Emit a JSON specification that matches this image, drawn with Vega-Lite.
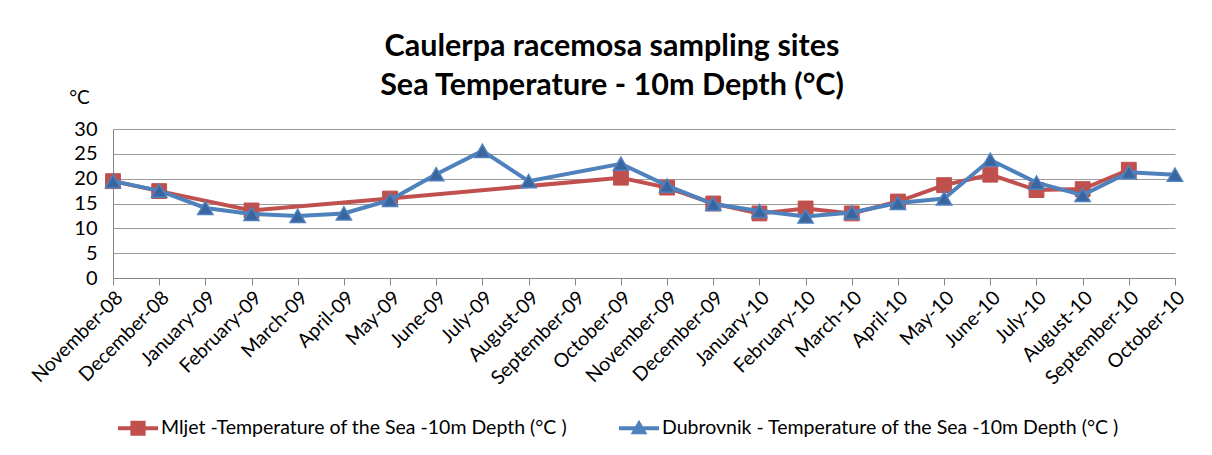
{
  "$schema": "https://vega.github.io/schema/vega-lite/v6.json",
  "autosize": {"type": "none"},
  "width": 1062,
  "height": 149,
  "padding": {"left": 113, "top": 129, "right": 37, "bottom": 177},
  "background": "white",
  "title": {
    "text": ["Caulerpa racemosa sampling sites", "Sea Temperature - 10m Depth (°C)"],
    "font": "Lato",
    "fontSize": 30.5,
    "fontWeight": "bold",
    "color": "#000000",
    "lineHeight": 39,
    "anchor": "middle",
    "dx": -32,
    "dy": 13,
    "offset": 0
  },
  "data": {
    "values": [
      {"month": "November-08", "series": "Mljet -Temperature of the Sea -10m Depth (°C )", "temp": 19.5},
      {"month": "December-08", "series": "Mljet -Temperature of the Sea -10m Depth (°C )", "temp": 17.5},
      {"month": "February-09", "series": "Mljet -Temperature of the Sea -10m Depth (°C )", "temp": 13.6},
      {"month": "May-09", "series": "Mljet -Temperature of the Sea -10m Depth (°C )", "temp": 16.0},
      {"month": "October-09", "series": "Mljet -Temperature of the Sea -10m Depth (°C )", "temp": 20.2},
      {"month": "November-09", "series": "Mljet -Temperature of the Sea -10m Depth (°C )", "temp": 18.2},
      {"month": "December-09", "series": "Mljet -Temperature of the Sea -10m Depth (°C )", "temp": 15.0},
      {"month": "January-10", "series": "Mljet -Temperature of the Sea -10m Depth (°C )", "temp": 13.0},
      {"month": "February-10", "series": "Mljet -Temperature of the Sea -10m Depth (°C )", "temp": 14.0},
      {"month": "March-10", "series": "Mljet -Temperature of the Sea -10m Depth (°C )", "temp": 13.0},
      {"month": "April-10", "series": "Mljet -Temperature of the Sea -10m Depth (°C )", "temp": 15.4},
      {"month": "May-10", "series": "Mljet -Temperature of the Sea -10m Depth (°C )", "temp": 18.7},
      {"month": "June-10", "series": "Mljet -Temperature of the Sea -10m Depth (°C )", "temp": 20.8},
      {"month": "July-10", "series": "Mljet -Temperature of the Sea -10m Depth (°C )", "temp": 17.7},
      {"month": "August-10", "series": "Mljet -Temperature of the Sea -10m Depth (°C )", "temp": 17.9},
      {"month": "September-10", "series": "Mljet -Temperature of the Sea -10m Depth (°C )", "temp": 21.8},
      {"month": "November-08", "series": "Dubrovnik - Temperature of the Sea -10m Depth (°C )", "temp": 19.5},
      {"month": "December-08", "series": "Dubrovnik - Temperature of the Sea -10m Depth (°C )", "temp": 17.6},
      {"month": "January-09", "series": "Dubrovnik - Temperature of the Sea -10m Depth (°C )", "temp": 14.1},
      {"month": "February-09", "series": "Dubrovnik - Temperature of the Sea -10m Depth (°C )", "temp": 12.9},
      {"month": "March-09", "series": "Dubrovnik - Temperature of the Sea -10m Depth (°C )", "temp": 12.5},
      {"month": "April-09", "series": "Dubrovnik - Temperature of the Sea -10m Depth (°C )", "temp": 13.0},
      {"month": "May-09", "series": "Dubrovnik - Temperature of the Sea -10m Depth (°C )", "temp": 15.7},
      {"month": "June-09", "series": "Dubrovnik - Temperature of the Sea -10m Depth (°C )", "temp": 20.9},
      {"month": "July-09", "series": "Dubrovnik - Temperature of the Sea -10m Depth (°C )", "temp": 25.6},
      {"month": "August-09", "series": "Dubrovnik - Temperature of the Sea -10m Depth (°C )", "temp": 19.5},
      {"month": "October-09", "series": "Dubrovnik - Temperature of the Sea -10m Depth (°C )", "temp": 23.0},
      {"month": "November-09", "series": "Dubrovnik - Temperature of the Sea -10m Depth (°C )", "temp": 18.6},
      {"month": "December-09", "series": "Dubrovnik - Temperature of the Sea -10m Depth (°C )", "temp": 14.9},
      {"month": "January-10", "series": "Dubrovnik - Temperature of the Sea -10m Depth (°C )", "temp": 13.5},
      {"month": "February-10", "series": "Dubrovnik - Temperature of the Sea -10m Depth (°C )", "temp": 12.4},
      {"month": "March-10", "series": "Dubrovnik - Temperature of the Sea -10m Depth (°C )", "temp": 13.2},
      {"month": "April-10", "series": "Dubrovnik - Temperature of the Sea -10m Depth (°C )", "temp": 15.1},
      {"month": "May-10", "series": "Dubrovnik - Temperature of the Sea -10m Depth (°C )", "temp": 16.0},
      {"month": "June-10", "series": "Dubrovnik - Temperature of the Sea -10m Depth (°C )", "temp": 23.8},
      {"month": "July-10", "series": "Dubrovnik - Temperature of the Sea -10m Depth (°C )", "temp": 19.2},
      {"month": "August-10", "series": "Dubrovnik - Temperature of the Sea -10m Depth (°C )", "temp": 16.7},
      {"month": "September-10", "series": "Dubrovnik - Temperature of the Sea -10m Depth (°C )", "temp": 21.3},
      {"month": "October-10", "series": "Dubrovnik - Temperature of the Sea -10m Depth (°C )", "temp": 20.8}
    ]
  },
  "encoding": {
    "x": {
      "field": "month",
      "type": "nominal",
      "scale": {
        "type": "point",
        "padding": 0,
        "domain": ["November-08", "December-08", "January-09", "February-09", "March-09", "April-09", "May-09", "June-09", "July-09", "August-09", "September-09", "October-09", "November-09", "December-09", "January-10", "February-10", "March-10", "April-10", "May-10", "June-10", "July-10", "August-10", "September-10", "October-10"]
      },
      "axis": {
        "title": null,
        "labelAngle": -45,
        "labelAlign": "right",
        "labelBaseline": "top",
        "labelPadding": 3,
        "labelFont": "Lato",
        "labelFontSize": 19.5,
        "labelColor": "#000000",
        "domainColor": "#868686",
        "tickColor": "#868686",
        "tickSize": 7,
        "grid": false
      }
    },
    "y": {
      "field": "temp",
      "type": "quantitative",
      "scale": {"domain": [0, 30], "nice": false},
      "axis": {
        "values": [0, 5, 10, 15, 20, 25, 30],
        "title": "°C",
        "titleAngle": 0,
        "titleX": -34,
        "titleY": -32,
        "titleAlign": "center",
        "titleBaseline": "middle",
        "titleFont": "Lato",
        "titleFontSize": 19,
        "titleFontWeight": "normal",
        "titleColor": "#000000",
        "labelFont": "Lato",
        "labelFontSize": 20,
        "labelColor": "#000000",
        "labelPadding": 16,
        "ticks": false,
        "domainColor": "#868686",
        "gridColor": "#9a9a9a",
        "grid": true
      }
    },
    "order": {"value": null}
  },
  "layer": [
    {
      "transform": [{"filter": {"field": "series", "equal": "Mljet -Temperature of the Sea -10m Depth (°C )"}}],
      "mark": {"type": "line", "strokeWidth": 4},
      "encoding": {
        "color": {
          "field": "series",
          "type": "nominal",
          "scale": {
            "domain": ["Mljet -Temperature of the Sea -10m Depth (°C )", "Dubrovnik - Temperature of the Sea -10m Depth (°C )"],
            "range": ["#C0504D", "#4F81BD"]
          },
          "legend": {
            "title": null,
            "orient": "none",
            "legendX": 5,
            "legendY": 279,
            "direction": "horizontal",
            "columnPadding": 52,
            "symbolSize": 1600,
            "labelFont": "Lato",
            "labelFontSize": 19.5,
            "labelColor": "#000000",
            "labelLimit": 600,
            "labelOffset": 3,
            "encode": {
              "symbols": {
                "update": {
                  "shape": {"signal": "indexof(datum.value, 'Mljet') == 0 ? 'M-1,-0.1L1,-0.1L1,0.1L-1,0.1Z M-0.38,-0.38L0.38,-0.38L0.38,0.38L-0.38,0.38Z' : 'M-1,-0.1L1,-0.1L1,0.1L-1,0.1Z M0,-0.42L0.42,0.3L-0.42,0.3Z'"},
                  "fill": {"scale": "color", "field": "value"},
                  "stroke": {"value": "transparent"},
                  "strokeWidth": {"value": 0},
                  "opacity": {"value": 1}
                }
              }
            }
          }
        }
      }
    },
    {
      "transform": [{"filter": {"field": "series", "equal": "Mljet -Temperature of the Sea -10m Depth (°C )"}}],
      "mark": {"type": "point", "shape": "square", "filled": true, "size": 220, "fill": "#C0504D", "stroke": "#C0504D", "strokeWidth": 1, "opacity": 1}
    },
    {
      "transform": [{"filter": {"field": "series", "equal": "Dubrovnik - Temperature of the Sea -10m Depth (°C )"}}],
      "mark": {"type": "line", "strokeWidth": 4},
      "encoding": {
        "color": {"field": "series", "type": "nominal"}
      }
    },
    {
      "transform": [{"filter": {"field": "series", "equal": "Dubrovnik - Temperature of the Sea -10m Depth (°C )"}}],
      "mark": {"type": "point", "shape": "triangle-up", "filled": true, "size": 230, "fill": "#3A66A0", "stroke": "#4F81BD", "strokeWidth": 1.5, "opacity": 1}
    }
  ],
  "config": {
    "view": {"stroke": null}
  }
}
